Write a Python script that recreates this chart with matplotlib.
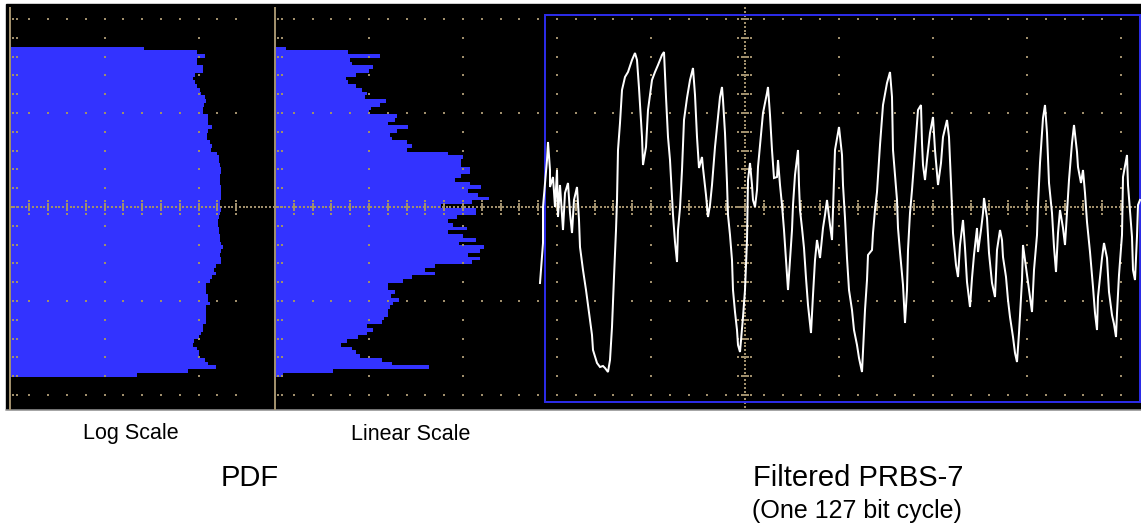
"""
Scope screenshot: PDF of a filtered PRBS-7 (log and linear) next to the trace.
"""
import matplotlib
matplotlib.use("Agg")
import matplotlib.pyplot as plt
from matplotlib.patches import Rectangle
import numpy as np

# --- Data (screen pixel units) ---
# PDF bar lengths, top bin first, 88 bins of 1/5 minor division each
log_pdf = [133, 186, 194, 186, 186, 192, 192, 184, 182, 184,
           186, 189, 190, 194, 195, 193, 192, 192, 197, 197,
           197, 201, 197, 196, 196, 199, 201, 200, 206, 208,
           208, 209, 210, 210, 209, 209, 209, 210, 210, 210,
           210, 209, 209, 210, 209, 208, 207, 207, 208.5, 208.5,
           209, 209.5, 210, 212, 210, 209, 210.5, 210.5, 205, 203,
           205, 201.5, 199, 195.5, 195.5, 195.5, 197, 197, 199, 195.5,
           195.5, 195.5, 195.5, 195.5, 192, 192, 190, 188, 183, 182.5,
           186.5, 188, 188, 194, 197, 205, 177, 126]
lin_pdf = [10, 72, 104, 74, 76, 97, 93, 80, 70, 72,
           80, 86, 91, 89, 110, 104, 95, 93, 121, 119,
           112, 132, 121, 114, 116, 131, 136, 131, 172, 187,
           185, 185, 194, 194, 185, 179, 194, 205, 192, 202,
           213, 196, 165, 200, 200, 181, 172, 177, 191, 172,
           187, 200, 183, 208, 204, 192, 204, 196, 159, 149,
           159, 136, 127, 112, 112, 119, 115, 123, 117, 114,
           112, 112, 108, 106, 91, 97, 91, 82, 71, 65,
           76, 80, 84, 106, 116, 153, 57, 7]

# Filtered PRBS-7 trace (one 127 bit cycle): time and screen level
wave_t = [540, 543, 543, 547, 548, 550, 550, 553, 555, 557,
          558, 560, 563, 565, 568, 570, 572, 574, 577, 579,
          580, 583, 586, 588, 590, 592, 593, 597, 600, 603,
          605, 608, 610, 612, 614, 616, 617, 618, 620, 622,
          625, 628, 632, 635, 637, 639, 642, 643, 646, 648,
          652, 655, 658, 662, 664, 666, 668, 670, 673, 675,
          677, 678, 680, 682, 684, 687, 690, 693, 695, 697,
          699, 702, 703, 706, 708, 710, 712, 715, 717, 720,
          722, 723, 725, 727, 728, 730, 732, 733, 735, 737,
          738, 740, 743, 745, 747, 748, 750, 752, 753, 755,
          757, 758, 760, 763, 767, 768, 770, 772, 774, 777,
          778, 780, 782, 784, 786, 788, 790, 792, 793, 795,
          798, 799, 800, 802, 804, 806, 808, 811, 813, 815,
          817, 820, 823, 825, 827, 830, 832, 835, 838, 839,
          842, 843, 845, 847, 849, 852, 854, 857, 859, 862,
          863, 865, 867, 868, 872, 873, 875, 877, 880, 883,
          887, 890, 892, 893, 897, 898, 900, 903, 905, 907,
          908, 910, 912, 915, 918, 921, 922, 923, 925, 927,
          930, 933, 935, 938, 941, 943, 947, 949, 951, 953,
          956, 958, 960, 963, 965, 967, 970, 972, 974, 977,
          978, 981, 983, 984, 987, 989, 992, 995, 997, 1000,
          1002, 1003, 1006, 1008, 1010, 1013, 1015, 1017, 1019, 1022,
          1023, 1027, 1030, 1032, 1034, 1037, 1038, 1040, 1043, 1045,
          1047, 1049, 1052, 1054, 1056, 1058, 1060, 1063, 1065, 1067,
          1069, 1072, 1074, 1077, 1078, 1081, 1083, 1085, 1087, 1090,
          1093, 1095, 1097, 1098, 1102, 1104, 1107, 1109, 1112, 1114,
          1116, 1117, 1119, 1122, 1123, 1127, 1128, 1132, 1133, 1135,
          1137, 1138, 1140]
wave_y = [283, 243, 207, 160, 142, 170, 187, 177, 207, 170,
          217, 185, 230, 193, 183, 213, 233, 200, 187, 220,
          247, 270, 290, 305, 320, 335, 350, 363, 367, 366,
          368, 372, 360, 327, 277, 230, 200, 150, 123, 90,
          77, 72, 60, 53, 60, 88, 137, 165, 147, 110,
          80, 72, 65, 55, 52, 97, 137, 160, 215, 242,
          262, 230, 208, 170, 120, 98, 80, 68, 95, 137,
          168, 157, 168, 195, 217, 205, 185, 147, 127, 97,
          87, 100, 133, 183, 215, 235, 260, 290, 312, 330,
          345, 352, 317, 290, 240, 180, 163, 185, 200, 207,
          190, 167, 145, 113, 93, 87, 115, 150, 178, 177,
          160, 185, 205, 230, 260, 290, 260, 230, 205, 175,
          150, 185, 210, 228, 248, 278, 305, 333, 295, 260,
          240, 258, 228, 215, 200, 225, 240, 150, 133, 127,
          155, 185, 218, 258, 290, 310, 330, 345, 358, 372,
          352, 310, 280, 255, 250, 233, 210, 192, 145, 105,
          83, 72, 97, 150, 200, 228, 252, 285, 323, 290,
          250, 213, 190, 150, 110, 105, 143, 165, 180, 160,
          133, 117, 150, 185, 163, 137, 120, 137, 183, 233,
          265, 277, 245, 220, 248, 282, 307, 278, 255, 228,
          252, 230, 213, 198, 218, 253, 283, 297, 250, 230,
          240, 257, 277, 300, 317, 337, 353, 362, 333, 280,
          245, 275, 297, 312, 270, 235, 205, 163, 118, 105,
          133, 183, 213, 247, 272, 233, 210, 228, 245, 213,
          180, 143, 125, 152, 167, 183, 170, 193, 222, 252,
          287, 313, 330, 297, 258, 243, 258, 292, 315, 324,
          337, 313, 275, 235, 177, 155, 185, 237, 270, 280,
          236, 205, 200]

panel_labels = ["Log Scale", "Linear Scale"]
group_labels = ["PDF", "Filtered PRBS-7"]
wave_note = "(One 127 bit cycle)"

# --- Layout / style ---
W, H = 1141, 526
SCREEN_X0, SCREEN_X1, SCREEN_Y0, SCREEN_Y1 = 6, 1141, 4, 409
CY = 207.0          # centre row of the graticule
DIV = 18.8          # minor division
MAJ = 5 * DIV       # major division
LOG_X0, LIN_X0 = 10.5, 275.0
HIST_TOP, BIN_H = 46.5, 3.75
CENTER_X = 744.7
FRAME = (545, 15, 1139.5, 401.5)

BLUE_BAR = "#3333ff"
BLUE_FRAME = "#2b2be6"
GRAT = "#a08f6c"
PX = 0.72           # points per pixel at dpi 100

plt.rcParams["font.family"] = ["Liberation Sans", "DejaVu Sans"]

fig = plt.figure(figsize=(W / 100, H / 100), dpi=100)
ax = fig.add_axes([0, 0, 1, 1])
ax.set_xlim(0, W)
ax.set_ylim(H, 0)
ax.axis("off")

# scope screen
ax.add_patch(Rectangle((SCREEN_X0, SCREEN_Y0), SCREEN_X1 - SCREEN_X0,
                       SCREEN_Y1 - SCREEN_Y0, color="black", zorder=0))
ax.plot([SCREEN_X0, SCREEN_X1], [SCREEN_Y1 + 1, SCREEN_Y1 + 1],
        color="#9a9a9a", lw=1.5 * PX, zorder=1)

# --- histograms ---
n_bins = len(lin_pdf)
bin_y = HIST_TOP + BIN_H * (np.arange(n_bins) + 0.5)
ax.barh(bin_y, log_pdf, left=LOG_X0, height=BIN_H, color=BLUE_BAR,
        linewidth=0, zorder=2)
ax.barh(bin_y, lin_pdf, left=LIN_X0 + 0.5, height=BIN_H, color=BLUE_BAR,
        linewidth=0, zorder=2)

# --- graticule ---
rows = CY + DIV * np.arange(-10, 11)
rows_major = CY + MAJ * np.array([-2, -1, 1, 2])
rows_minor = rows[np.abs(rows - CY) > 1]
dot_kw = dict(marker="s", s=2.2, color=GRAT, linewidths=0, zorder=3)

left_x = LOG_X0 + DIV * np.arange(1, 13)
main_x = LIN_X0 + DIV * np.arange(1, 47)
for yr in rows_major:
    ax.scatter(left_x, np.full_like(left_x, yr), **dot_kw)
    ax.scatter(main_x, np.full_like(main_x, yr), **dot_kw)

cols = [LOG_X0 + MAJ, LOG_X0 + 2 * MAJ] + \
    [LIN_X0 + MAJ * k for k in range(1, 10) if k != 5]
for xc in cols:
    ax.scatter(np.full_like(rows_minor, xc), rows_minor, **dot_kw)

# edge ticks on the two panel separators
for x0 in (LOG_X0 - 0.5, LIN_X0):
    ax.plot([x0, x0], [8, SCREEN_Y1], color=GRAT, lw=2 * PX, zorder=4)
    for dx in (3, 6.5):
        ax.scatter(np.full_like(rows, x0 + dx), rows, **dot_kw)

# centre row: fine dots + ticks
cx = np.arange(LOG_X0, SCREEN_X1, DIV / 5)
ax.scatter(cx, np.full_like(cx, CY), **dot_kw)
tick_x = np.concatenate([left_x, main_x])
ax.vlines(tick_x, CY - 4, CY + 4, color=GRAT, lw=2 * PX, zorder=3)
ax.scatter(tick_x, np.full_like(tick_x, CY - 6.5), **dot_kw)
ax.scatter(tick_x, np.full_like(tick_x, CY + 6.5), **dot_kw)

# centre column: fine dots + ticks
cyy = np.arange(8, SCREEN_Y1, DIV / 5)
ax.scatter(np.full_like(cyy, CENTER_X), cyy, **dot_kw)
ax.hlines(rows, CENTER_X - 4, CENTER_X + 4, color=GRAT, lw=2 * PX, zorder=3)
ax.scatter(np.full_like(rows, CENTER_X - 6.5), rows, **dot_kw)
ax.scatter(np.full_like(rows, CENTER_X + 6.5), rows, **dot_kw)

# --- waveform window and trace ---
fx0, fy0, fx1, fy1 = FRAME
ax.add_patch(Rectangle((fx0, fy0), fx1 - fx0, fy1 - fy0, fill=False,
                       edgecolor=BLUE_FRAME, lw=2 * PX, zorder=5))
ax.plot(wave_t, wave_y, color="white", lw=2.0 * PX, zorder=6,
        solid_joinstyle="miter")

# --- labels ---
ax.text(131, 434, panel_labels[0], fontsize=15.5, ha="center", va="center")
ax.text(411, 434, panel_labels[1], fontsize=15.5, ha="center", va="center")
ax.text(250, 478, group_labels[0], fontsize=21, ha="center", va="center")
ax.text(858, 478, group_labels[1], fontsize=21, ha="center", va="center")
ax.text(857, 511, wave_note, fontsize=18, ha="center", va="center")

fig.savefig("out.png", dpi=100, facecolor="white")
